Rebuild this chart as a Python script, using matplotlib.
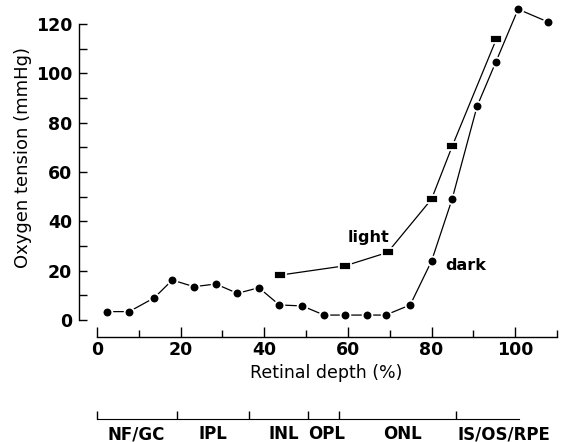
import numpy as np
import matplotlib
matplotlib.use("Agg")
import matplotlib.pyplot as plt

plt.rcParams['font.family'] = ['DejaVu Sans']

# retinal depth (%) and oxygen tension (mmHg)
dark_depth = [2.5, 7.7, 13.7, 18.0, 23.2, 28.4, 33.6, 38.7, 43.6, 49.1, 54.3, 59.4, 64.6, 69.0, 74.9, 80.0, 84.9, 90.9, 95.4, 100.7, 107.9]
dark_po2 = [3.4, 3.4, 9.0, 16.2, 13.5, 14.6, 10.8, 13.1, 6.1, 5.7, 2.0, 2.0, 2.0, 2.0, 6.1, 23.9, 48.9, 86.7, 104.7, 126.0, 120.8]
light_depth = [43.8, 59.4, 69.5, 80.0, 85.0, 95.5]
light_po2 = [18.2, 22.0, 27.4, 49.0, 70.7, 113.9]

layer_edges = [0, 19.1, 36.3, 50.4, 57.8, 85.9, 101]
layer_names = ["NF/GC", "IPL", "INL", "OPL", "ONL", "IS/OS/RPE"]
layer_pos = [9.3, 27.7, 44.6, 54.9, 73.0, 97.4]

fig = plt.figure(figsize=(5.61, 4.42), dpi=100)
ax = fig.add_axes([79/561, 122/442, 478/561, 296/442])

rect = [(-1, -0.62), (1, -0.62), (1, 0.62), (-1, 0.62), (-1, -0.62)]
ax.plot(dark_depth, dark_po2, color="black", lw=0.9, marker="o", ms=7,
        mfc="black", mec="white", mew=1.3, clip_on=False, zorder=3)
ax.plot(light_depth, light_po2, color="black", lw=0.9, marker=rect, ms=9,
        mfc="black", mec="white", mew=1.3, clip_on=False, zorder=3)

ax.text(60, 33.6, "light", fontsize=11.5, fontweight="bold", va="center", ha="left")
ax.text(83.3, 22.0, "dark", fontsize=11.5, fontweight="bold", va="center", ha="left")

ax.set_xlim(-4.3, 110)
ax.set_ylim(0, 120)
for s in ["top", "right"]:
    ax.spines[s].set_visible(False)
ax.spines["bottom"].set_position(("outward", 12))
ax.spines["bottom"].set_bounds(0, 110)
ax.spines["left"].set_bounds(0, 120)
ax.spines["left"].set_linewidth(1.0)
ax.spines["bottom"].set_linewidth(1.0)

ax.set_xticks([0, 20, 40, 60, 80, 100])
ax.set_xticks([10, 30, 50, 70, 90, 110], minor=True)
ax.set_yticks([0, 20, 40, 60, 80, 100, 120])
ax.set_yticks([10, 30, 50, 70, 90, 110], minor=True)
ax.tick_params(axis="x", which="major", direction="in", length=7, width=1, pad=3, labelsize=12.5)
ax.tick_params(axis="x", which="minor", direction="in", length=5, width=1)
ax.tick_params(axis="y", which="both", direction="in", length=5.5, width=1, pad=5, labelsize=12.5)
for lab in ax.get_xticklabels() + ax.get_yticklabels():
    lab.set_fontweight("bold")

ax.set_xlabel("Retinal depth (%)", fontsize=12.5)
ax.set_ylabel("Oxygen tension (mmHg)", fontsize=13)
ax.xaxis.set_label_coords(0.517, -0.15)
ax.yaxis.set_label_coords(-0.098, 0.55)

# retinal layer bar
ax2 = fig.add_axes([79/561, 23/442, 478/561, 10/442])
ax2.set_xlim(-4.3, 110)
ax2.set_ylim(0, 1)
for s in ["top", "right", "left"]:
    ax2.spines[s].set_visible(False)
ax2.spines["bottom"].set_bounds(layer_edges[0], layer_edges[-1])
ax2.set_yticks([])
ax2.set_xticks(layer_edges[:-1])
ax2.set_xticklabels([])
ax2.tick_params(axis="x", direction="in", length=6, width=1)
ax2.patch.set_visible(False)
for name, pos in zip(layer_names, layer_pos):
    ax2.annotate(name, xy=(pos, 0), xycoords=ax2.get_xaxis_transform(),
                 xytext=(0, -14.5), textcoords="offset points",
                 ha="center", va="baseline", fontsize=12, fontweight="bold",
                 annotation_clip=False)

fig.savefig("out.png", dpi=100)
